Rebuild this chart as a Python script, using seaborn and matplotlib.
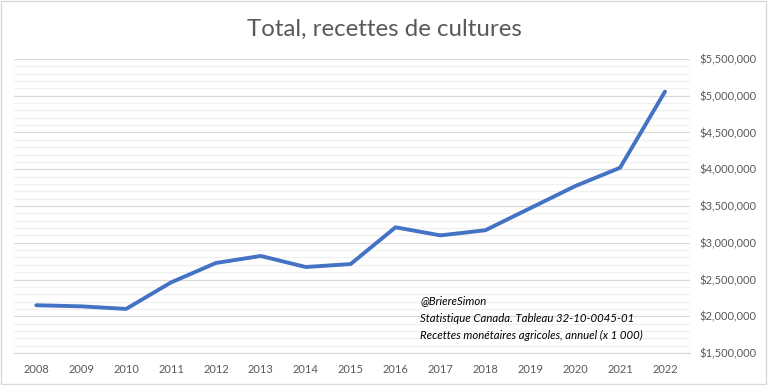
import matplotlib
matplotlib.use("Agg")
import matplotlib.pyplot as plt
import matplotlib.ticker as mticker
import seaborn as sns
import pandas as pd

# Data
years = list(range(2008, 2023))
recettes = [2150000, 2135000, 2100000, 2460000, 2725000, 2820000, 2670000, 2710000,
            3210000, 3100000, 3170000, 3470000, 3770000, 4020000, 5055000]
title = "Total, recettes de cultures"
notes = ["@BriereSimon",
         "Statistique Canada. Tableau 32-10-0045-01",
         "Recettes monétaires agricoles, annuel (x 1 000)"]

df = pd.DataFrame({"annee": years, "recettes": recettes})

sns.set_style("white")
plt.rcParams["font.family"] = ["Lato", "DejaVu Sans"]

fig = plt.figure(figsize=(7.68, 3.85), dpi=100)
ax = fig.add_axes([0.018, 0.083, 0.880, 0.764])

sns.lineplot(data=df, x="annee", y="recettes", ax=ax, color="#4472C4", linewidth=2.8)

ax.set_xlim(2007.5, 2022.55)
ax.set_ylim(1500000, 5500000)
ax.set_xticks(years)
ax.set_xticklabels([str(y) for y in years])
ax.yaxis.set_major_locator(mticker.MultipleLocator(500000))
ax.yaxis.set_minor_locator(mticker.MultipleLocator(100000))
ax.yaxis.set_major_formatter(mticker.FuncFormatter(lambda v, p: f"${v:,.0f}"))
ax.yaxis.tick_right()
ax.grid(which="major", axis="y", color="#D9D9D9", linewidth=0.9)
ax.grid(which="minor", axis="y", color="#F0F0F0", linewidth=0.9)
ax.set_axisbelow(True)
ax.tick_params(axis="both", which="both", length=0, colors="#595959", labelsize=8)
ax.tick_params(axis="y", pad=7)
ax.tick_params(axis="x", pad=8)
for s in ["top", "left", "right"]:
    ax.spines[s].set_visible(False)
ax.spines["bottom"].set_color("#D9D9D9")
ax.set_xlabel("")
ax.set_ylabel("")

fig.text(0.5, 0.925, title, ha="center", va="center", fontsize=17.3,
         color="#595959")

for i, line in enumerate(notes):
    fig.text(0.547, 0.22 - i * 0.046, line, ha="left", va="center",
             fontsize=8.2, style="italic", color="#000000")

fig.patches.append(plt.Rectangle((0.001, 0.002), 0.997, 0.995, transform=fig.transFigure,
                                 fill=False, edgecolor="#D9D9D9", linewidth=1))

fig.savefig("out.png", dpi=100)
